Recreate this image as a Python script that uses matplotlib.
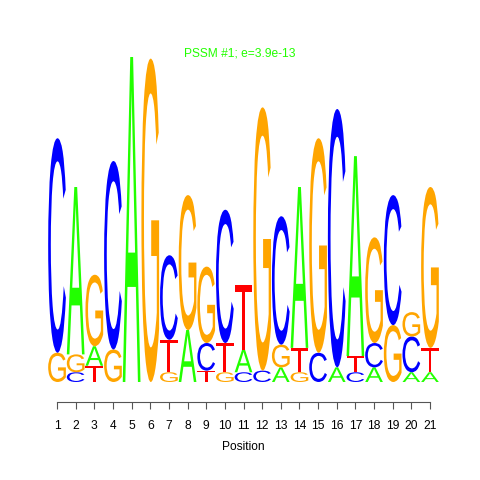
import matplotlib
matplotlib.use("Agg")
import matplotlib.pyplot as plt
from matplotlib.textpath import TextPath
from matplotlib.patches import PathPatch
from matplotlib.font_manager import FontProperties
from matplotlib.transforms import Affine2D

# Logo stacks, bottom -> top, heights in bits
positions = list(range(1, 22))
stack_letters = [
    "GC", "CGA", "TAG", "GC", "A", "G", "GTC", "AG", "TCG", "GTC", "CAT",
    "CG", "AGC", "GTA", "CG", "AC", "CTA", "ACG", "GC", "ACG", "ATG",
]
stack_heights = [
    [0.18, 1.32], [0.06, 0.11, 1.03], [0.10, 0.12, 0.44], [0.20, 1.16],
    [2.0], [1.99], [0.06, 0.20, 0.52], [0.32, 0.83], [0.07, 0.17, 0.47],
    [0.06, 0.18, 0.82], [0.06, 0.14, 0.40], [0.07, 1.62], [0.09, 0.14, 0.79],
    [0.06, 0.15, 0.99], [0.18, 1.32], [0.09, 1.59], [0.06, 0.10, 1.23],
    [0.09, 0.15, 0.65], [0.35, 0.80], [0.06, 0.22, 0.15], [0.06, 0.15, 0.99],
]
title = "PSSM #1; e=3.9e-13"

colors = {"A": "#22FF00", "C": "#0000FF", "G": "#FFA500", "T": "#FF0000"}
font = FontProperties(family="Liberation Sans")
glyphs = {b: TextPath((0, 0), b, size=1, prop=font) for b in "ACGT"}

plt.rcParams['font.family'] = ['Liberation Sans', 'DejaVu Sans']

fig = plt.figure(figsize=(4.8, 4.8), dpi=100)
# data 0.5..21.5 and 0..2 bits placed to match the reference pixels
ax = fig.add_axes([47.7 / 480, 98 / 480, 391.6 / 480, 325 / 480])
ax.set_xlim(0.5, 21.5)
ax.set_ylim(0, 2)

width = 0.95
for pos, lets, hs in zip(positions, stack_letters, stack_heights):
    y = 0
    for b, h in zip(lets, hs):
        p = glyphs[b]
        ext = p.get_extents()
        tr = (Affine2D().translate(-ext.x0, -ext.y0)
              .scale(width / ext.width, h / ext.height)
              .translate(pos - width / 2, y))
        ax.add_patch(PathPatch(tr.transform_path(p), facecolor=colors[b],
                               edgecolor="none", lw=0))
        y += h

for s in ["top", "left", "right"]:
    ax.spines[s].set_visible(False)
ax.spines["bottom"].set_position(("outward", 14.4))
ax.spines["bottom"].set_bounds(1, 21)
ax.spines["bottom"].set_color("#555555")
ax.spines["bottom"].set_linewidth(0.8)
ax.set_yticks([])
ax.set_xticks(positions)
ax.tick_params(axis="x", length=5, width=0.8, color="#555555", pad=8,
               labelsize=8.64)
ax.set_xlabel("Position", fontsize=8.64, labelpad=6.5)

fig.text(0.5, 1 - 57 / 480, title, ha="center", va="baseline",
         color="#22FF00", fontsize=8.64)

fig.savefig("out.png", dpi=100)
